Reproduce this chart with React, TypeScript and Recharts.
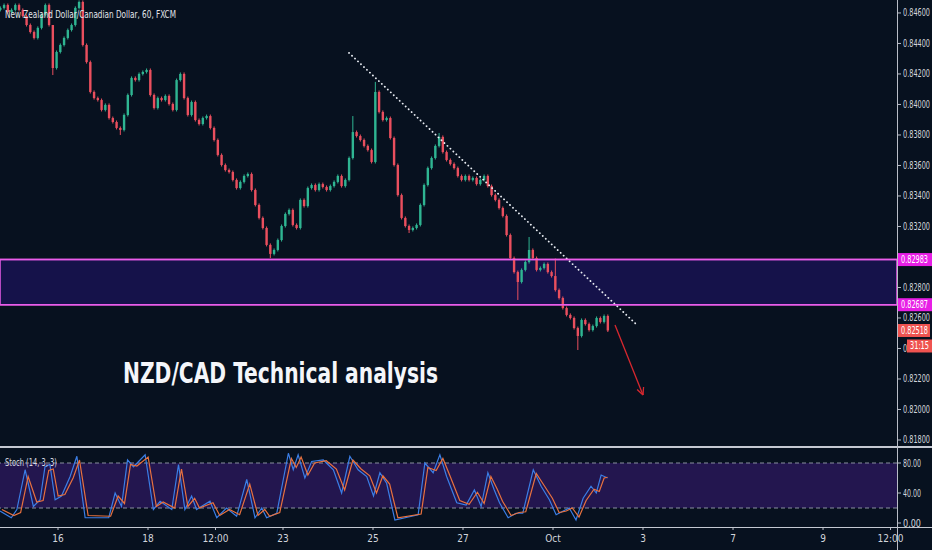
import React from 'react';
import { ComposedChart, Bar, Line, XAxis, YAxis, ReferenceArea, ReferenceLine } from 'recharts';

const BG = '#07111f';
const UP = '#2fb592';
const DOWN = '#ea4f5e';
const MAGENTA = '#ea5cea';
const TEXT = '#d2d5dc';
const FONT = "'Liberation Sans Narrow', 'DejaVu Sans Condensed', Roboto, sans-serif";

// time axis: trading days, 16 Sep = 0
const timeTicks = [0, 2, 3.5, 5, 7, 9, 11, 13, 15, 17, 18.5];
const timeLabels = ['16', '18', '12:00', '23', '25', '27', 'Oct', '3', '7', '9', '12:00'];
const DAY_MIN = -1.2889;
const DAY_MAX = 18.644;

const priceTicks = [0.818, 0.82, 0.822, 0.824, 0.826, 0.828, 0.832, 0.834, 0.836, 0.838, 0.84, 0.842, 0.844, 0.846];
const PRICE_MIN = 0.81754;
const PRICE_MAX = 0.84685;

const stochTicks = [0, 40, 80];

// 2-hour bars
const START_DAY = -1.2889;
const BAR_DAYS = 1 / 12;
const firstOpen = 0.8462;
const closes = [
  0.84633, 0.84652, 0.84606, 0.8462, 0.84652, 0.8462, 0.8458, 0.84521, 0.84475, 0.84436,
  0.84502, 0.84587, 0.84652, 0.84521, 0.84239, 0.84344, 0.8439, 0.84436, 0.84488, 0.84521,
  0.84633, 0.84672, 0.8439, 0.84278, 0.84082, 0.84042, 0.84029, 0.83964, 0.83997, 0.83911,
  0.83885, 0.83846, 0.83833, 0.83931, 0.84062, 0.84174, 0.8416, 0.842, 0.84213, 0.84226,
  0.84062, 0.83977, 0.84042, 0.84029, 0.84056, 0.84003, 0.83964, 0.8416, 0.842, 0.84042,
  0.83931, 0.84016, 0.83898, 0.83872, 0.83911, 0.83924, 0.83846, 0.83767, 0.83669, 0.83603,
  0.8357, 0.83557, 0.83505, 0.83452, 0.83492, 0.83531, 0.83544, 0.83439, 0.83341, 0.83256,
  0.8319, 0.83079, 0.8302, 0.83046, 0.83111, 0.83203, 0.83282, 0.83308, 0.8321, 0.8319,
  0.83374, 0.83334, 0.83452, 0.83472, 0.83439, 0.83478, 0.83459, 0.83439, 0.83465, 0.83492,
  0.83531, 0.83465, 0.83505, 0.83649, 0.83819, 0.83793, 0.83767, 0.83728, 0.83701, 0.83623,
  0.84082, 0.83951, 0.83898, 0.83911, 0.8378, 0.83603, 0.83406, 0.83256, 0.83203, 0.83177,
  0.8319, 0.8321, 0.83341, 0.83472, 0.83583, 0.83649, 0.83728, 0.83787, 0.83688, 0.83636,
  0.8361, 0.83583, 0.83531, 0.83505, 0.83531, 0.83505, 0.83518, 0.83478, 0.83505, 0.83531,
  0.83465, 0.83406, 0.83374, 0.83321, 0.83269, 0.83144, 0.82993, 0.82901, 0.82836, 0.82915,
  0.82967, 0.83046, 0.82993, 0.82915, 0.82928, 0.82954, 0.82901, 0.82875, 0.82783, 0.82731,
  0.82665, 0.8262, 0.826, 0.82534, 0.82482, 0.82587, 0.8256, 0.82521, 0.82547, 0.826,
  0.82574, 0.82613, 0.82518,
];
const highSpikes: Record<number, number> = { 14: 0.8439, 94: 0.83924, 100: 0.84148, 117: 0.83813, 141: 0.83131, 148: 0.8299 };
const lowSpikes: Record<number, number> = { 14: 0.84193, 32: 0.838, 72: 0.82993, 109: 0.83157, 138: 0.82718, 154: 0.8239 };
const WICK = 0.0001;

const bars = closes.map((c, i) => {
  const o = i === 0 ? firstOpen : closes[i - 1];
  const h = highSpikes[i] ?? Math.max(o, c) + WICK;
  const l = lowSpikes[i] ?? Math.min(o, c) - WICK;
  return { d: START_DAY + i * BAR_DAYS, o, c, h, l, range: [l, h] };
});

// Stochastic (14,3,3), positions in bar units
const kBars = [0, 3, 4.5, 6.7, 8.9, 10.7, 12, 13.3, 14.7, 16.4, 18.7, 20.5, 22.7, 29, 30.7, 32.4, 34, 35.6, 38.7, 40.9, 42.7, 45.8, 47.6, 49.3, 51.1, 52.4, 56, 57.8, 60.4, 63.1, 65.8, 68, 69.8, 71.1, 73.8, 76.9, 78.2, 79.5, 81.3, 83.1, 86.2, 88.9, 91.1, 93.3, 95.5, 97.8, 99.6, 101.3, 103.1, 105.3, 111.5, 113.3, 115.5, 117.3, 119.1, 121.8, 124.3, 126.5, 128.3, 130.1, 131.8, 133.2, 135.5, 137.6, 139.4, 142.2, 144.3, 146.5, 148.3, 150.2, 151.8, 153.6, 155.5, 157.6, 159, 160.3, 162];
const kValues = [16, 7, 18, 71, 22, 31, 75, 78, 31, 36, 62, 89, 7, 7, 40, 22, 84, 75, 91, 18, 29, 18, 78, 18, 36, 18, 29, 7, 20, 9, 58, 7, 20, 7, 13, 93, 71, 91, 60, 82, 84, 71, 40, 89, 71, 62, 36, 67, 53, 4, 11, 80, 67, 91, 62, 27, 24, 44, 22, 67, 44, 27, 7, 13, 13, 71, 49, 31, 11, 16, 20, 4, 33, 49, 40, 64, 60];
const dBars = [0.5, 3.7, 5.5, 7.5, 9.8, 11.5, 13, 14.2, 15.5, 17.3, 19.5, 21.2, 23.5, 29.5, 31.5, 33.2, 34.8, 36.5, 39.5, 41.7, 43.5, 46.6, 48.4, 50.1, 51.9, 53.2, 56.8, 58.6, 61.2, 63.9, 66.6, 68.8, 70.6, 71.9, 74.6, 77.7, 79, 80.3, 82.1, 83.9, 87, 89.7, 91.9, 94.1, 96.3, 98.6, 100.4, 102.1, 103.9, 106.1, 112.3, 114.1, 116.3, 118.1, 119.9, 122.6, 125.1, 127.3, 129.1, 130.9, 132.6, 134, 136.3, 138.4, 140.2, 143, 145.1, 147.3, 149.1, 151, 152.6, 154.4, 156.3, 158.4, 159.8, 161.1, 162];
const dValues = [18, 10, 14, 62, 28, 30, 70, 72, 36, 38, 60, 84, 10, 9, 36, 26, 78, 76, 88, 22, 28, 20, 72, 22, 33, 20, 27, 10, 18, 11, 52, 10, 18, 9, 14, 86, 74, 88, 64, 80, 83, 72, 44, 84, 72, 63, 40, 63, 52, 7, 12, 74, 70, 86, 64, 30, 25, 41, 26, 62, 45, 29, 10, 14, 15, 66, 50, 33, 14, 16, 20, 8, 30, 45, 42, 60, 61];
const kData = kBars.map((b, i) => ({ d: START_DAY + b * BAR_DAYS, v: kValues[i] }));
const dData = dBars.map((b, i) => ({ d: START_DAY + b * BAR_DAYS, v: dValues[i] }));

const zoneTop = 0.82983;
const zoneBottom = 0.82687;
const lastPrice = 0.82518;
const countdown = '31:15';
const trendStart = { x: 6.467, y: 0.84338 };
const trendEnd = { x: 12.867, y: 0.82554 };
const arrowStart = { x: 12.378, y: 0.82554 };
const arrowEnd = { x: 13.0, y: 0.82095 };

const Candle = (props: any) => {
  const { x, y, width, height, payload } = props;
  if (x == null || y == null || !payload) return null;
  const { o, c, h, l } = payload;
  const span = h - l || 1e-9;
  const top0 = Math.min(y, y + height);
  const hh = Math.abs(height);
  const py = (v: number) => top0 + ((h - v) / span) * hh;
  const cx = x + width / 2;
  const color = c >= o ? UP : DOWN;
  const bt = py(Math.max(o, c));
  const bb = py(Math.min(o, c));
  return (
    <g>
      <line x1={cx} x2={cx} y1={top0} y2={top0 + hh} stroke={color} strokeWidth={1} />
      <rect x={cx - 1.2} y={bt} width={2.4} height={Math.max(bb - bt, 1)} fill={color} />
    </g>
  );
};

const NarrowTick = (digits: number, len: number) => (props: any) => {
  const { x, y, payload } = props;
  return (
    <text x={x} y={y} dy={3.5} fill={TEXT} fontSize={10} fontFamily={FONT} textLength={len} lengthAdjust="spacingAndGlyphs">
      {Number(payload.value).toFixed(digits)}
    </text>
  );
};

const tag = (text: string, fill: string) => (props: any) => {
  const vb = props.viewBox || {};
  const xx = (vb.x ?? 0) + (vb.width ?? 0);
  const yy = vb.y ?? 0;
  return (
    <g>
      <rect x={xx} y={yy - 6.5} width={35} height={13} fill={fill} />
      <text x={xx + 4} y={yy + 3.5} fill="#ffffff" fontSize={10} fontFamily={FONT} textLength={27} lengthAdjust="spacingAndGlyphs">{text}</text>
    </g>
  );
};

const lastTag = (props: any) => {
  const vb = props.viewBox || {};
  const xx = (vb.x ?? 0) + (vb.width ?? 0);
  const yy = vb.y ?? 0;
  return (
    <g>
      <rect x={xx} y={yy - 6.5} width={33} height={13} fill="#ef5350" />
      <text x={xx + 4} y={yy + 3.5} fill="#ffffff" fontSize={10} fontFamily={FONT} textLength={27} lengthAdjust="spacingAndGlyphs">{lastPrice.toFixed(5)}</text>
      <rect x={xx + 10} y={yy + 9} width={25} height={13} fill="#ef5350" />
      <text x={xx + 13} y={yy + 19} fill="#ffffff" fontSize={10} fontFamily={FONT} textLength={19} lengthAdjust="spacingAndGlyphs">{countdown}</text>
    </g>
  );
};

const ArrowShape = (props: any) => {
  const { x1, y1, x2, y2 } = props;
  if (x1 == null) return null;
  const ang = Math.atan2(y2 - y1, x2 - x1);
  const len = 8;
  const a1 = ang + Math.PI - 0.45;
  const a2 = ang + Math.PI + 0.45;
  return (
    <g>
      <line x1={x1} y1={y1} x2={x2} y2={y2} stroke="#d8282f" strokeWidth={1.3} />
      <line x1={x2} y1={y2} x2={x2 + len * Math.cos(a1)} y2={y2 + len * Math.sin(a1)} stroke="#d8282f" strokeWidth={1.3} />
      <line x1={x2} y1={y2} x2={x2 + len * Math.cos(a2)} y2={y2 + len * Math.sin(a2)} stroke="#d8282f" strokeWidth={1.3} />
    </g>
  );
};

const tickStyle = { fill: TEXT, fontSize: 10, fontFamily: FONT };

export default function App() {
  return (
    <div style={{ position: 'fixed', left: 0, top: 0, width: 932, height: 550, background: BG, overflow: 'hidden' }}>
      <div style={{ position: 'absolute', left: 0, top: 0 }}>
        <ComposedChart width={932} height={447} data={bars} margin={{ top: 0, right: 0, bottom: 0, left: 0 }}>
          <XAxis type="number" dataKey="d" domain={[DAY_MIN, DAY_MAX]} allowDataOverflow hide />
          <YAxis
            orientation="right"
            width={35}
            domain={[PRICE_MIN, PRICE_MAX]}
            allowDataOverflow
            ticks={priceTicks}
            interval={0}
            tick={NarrowTick(5, 27)}
            tickSize={4}
            tickMargin={2}
            axisLine={false}
            tickLine={{ stroke: '#b9bdc7' }}
          />
          <ReferenceArea y1={zoneBottom} y2={zoneTop} fill="#15124a" fillOpacity={1} stroke={MAGENTA} strokeWidth={1.5} />
          <Bar dataKey="range" barSize={2.4} shape={<Candle />} isAnimationActive={false} />
          <ReferenceLine segment={[trendStart, trendEnd]} stroke="#e8ecf2" strokeWidth={1.8} strokeDasharray="0.1 4" strokeLinecap="round" ifOverflow="visible" />
          <ReferenceLine segment={[arrowStart, arrowEnd]} ifOverflow="visible" shape={(p: any) => <ArrowShape {...p} />} />
        </ComposedChart>
      </div>
      <div style={{ position: 'absolute', left: 0, top: 0 }}>
        <ComposedChart width={932} height={447} data={bars} margin={{ top: 0, right: 35, bottom: 0, left: 0 }}>
          <XAxis type="number" dataKey="d" domain={[DAY_MIN, DAY_MAX]} allowDataOverflow hide />
          <YAxis domain={[PRICE_MIN, PRICE_MAX]} allowDataOverflow hide />
          <ReferenceLine y={zoneTop} stroke={MAGENTA} strokeWidth={1.5} label={tag(zoneTop.toFixed(5), '#e81ee6')} />
          <ReferenceLine y={zoneBottom} stroke={MAGENTA} strokeWidth={1.5} label={tag(zoneBottom.toFixed(5), '#e81ee6')} />
          <ReferenceLine y={lastPrice} stroke="none" strokeOpacity={0} label={lastTag} />
        </ComposedChart>
      </div>
      <div style={{ position: 'absolute', left: 0, top: 447 }}>
        <ComposedChart width={932} height={103} margin={{ top: 1, right: 0, bottom: 0, left: 0 }}>
          <XAxis
            type="number"
            dataKey="d"
            domain={[DAY_MIN, DAY_MAX]}
            allowDataOverflow
            ticks={timeTicks}
            interval={0}
            tickFormatter={(v: number) => timeLabels[timeTicks.indexOf(v)]}
            tick={tickStyle}
            height={23}
            tickSize={3}
            tickMargin={5}
            axisLine={false}
            tickLine={{ stroke: '#b9bdc7' }}
          />
          <YAxis
            orientation="right"
            width={35}
            domain={[-5.33, 100]}
            allowDataOverflow
            ticks={stochTicks}
            interval={0}
            tick={NarrowTick(2, 18)}
            tickSize={4}
            tickMargin={2}
            axisLine={false}
            tickLine={{ stroke: '#b9bdc7' }}
          />
          <ReferenceArea y1={20} y2={80} fill="#23164f" fillOpacity={1} stroke="none" />
          <ReferenceLine y={80} stroke="#8a90a0" strokeDasharray="4 3" />
          <ReferenceLine y={20} stroke="#8a90a0" strokeDasharray="4 3" />
          <Line data={kData} dataKey="v" type="linear" stroke="#3b7ee6" strokeWidth={1.2} dot={false} isAnimationActive={false} />
          <Line data={dData} dataKey="v" type="linear" stroke="#e8713f" strokeWidth={1.2} dot={false} isAnimationActive={false} />
        </ComposedChart>
      </div>
      <div style={{ position: 'absolute', left: 0, top: 446, width: 932, height: 1.5, background: '#c4c8d2' }} />
      <div style={{ position: 'absolute', left: 0, top: 526.5, width: 932, height: 1.5, background: '#c4c8d2' }} />
      <div style={{ position: 'absolute', left: 897, top: 0, width: 1, height: 550, background: '#b9bdc7' }} />
      <svg width={932} height={550} style={{ position: 'absolute', left: 0, top: 0, pointerEvents: 'none' }}>
        <text x={5} y={18} fill="#e2e5ea" fontSize={10.5} fontFamily={FONT} textLength={171} lengthAdjust="spacingAndGlyphs">New Zealand Dollar/Canadian Dollar, 60, FXCM</text>
        <text x={123} y={383} fill="#f4f6fa" fontSize={28} fontWeight="bold" fontFamily={FONT} textLength={315} lengthAdjust="spacingAndGlyphs">NZD/CAD Technical analysis</text>
        <text x={5} y={466} fill="#d8dbe2" fontSize={10} fontFamily={FONT} textLength={52} lengthAdjust="spacingAndGlyphs">Stoch (14, 3, 3)</text>
      </svg>
    </div>
  );
}
